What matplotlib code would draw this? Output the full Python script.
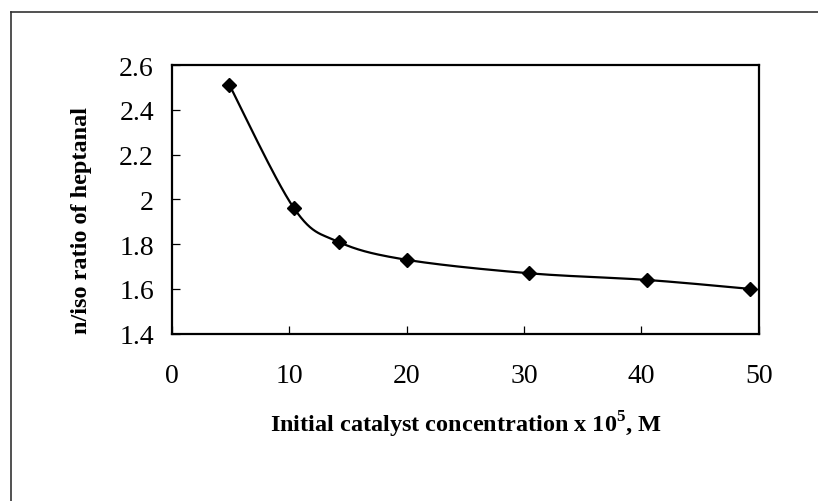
import numpy as np
import matplotlib
matplotlib.use('Agg')
import matplotlib.pyplot as plt
from matplotlib.lines import Line2D

# data
conc = [4.9, 10.4, 14.2, 20.0, 30.4, 40.5, 49.3]
ratio = [2.51, 1.96, 1.81, 1.73, 1.67, 1.64, 1.60]
xticks = [0, 10, 20, 30, 40, 50]
yticks = [1.4, 1.6, 1.8, 2.0, 2.2, 2.4, 2.6]
ytick_labels = ['1.4', '1.6', '1.8', '2', '2.2', '2.4', '2.6']

plt.rcParams['font.family'] = 'Liberation Serif'
plt.rcParams['mathtext.fontset'] = 'custom'
plt.rcParams['mathtext.rm'] = 'Liberation Serif'
plt.rcParams['mathtext.bf'] = 'Liberation Serif:bold'


def smooth(x, y, n=30):
    # Excel-like smoothed line: Catmull-Rom / bezier through the points
    # done in axis-normalised units so the shape does not depend on scales
    sx = np.asarray(x) / 50.0
    sy = (np.asarray(y) - 1.4) / 1.2 * 0.46
    pts = np.column_stack([sx, sy])
    out = [pts[0]]
    for i in range(len(pts) - 1):
        p0 = pts[i - 1] if i > 0 else pts[i]
        p1 = pts[i]
        p2 = pts[i + 1]
        p3 = pts[i + 2] if i + 2 < len(pts) else pts[i + 1]
        c1 = p1 + (p2 - p0) / 6.0
        c2 = p2 - (p3 - p1) / 6.0
        t = np.linspace(0, 1, n)[1:, None]
        seg = ((1 - t) ** 3 * p1 + 3 * (1 - t) ** 2 * t * c1
               + 3 * (1 - t) * t ** 2 * c2 + t ** 3 * p2)
        out.extend(seg)
    out = np.array(out)
    return out[:, 0] * 50.0, out[:, 1] / 0.46 * 1.2 + 1.4


fig = plt.figure(figsize=(8.18, 5.02), dpi=100)
ax = fig.add_axes([172 / 818, 1 - 334.7 / 502, 586.7 / 818, 268.7 / 502])

cx, cy = smooth(conc, ratio)
ax.plot(cx, cy, color='black', lw=1.6, zorder=2)
ax.plot(conc, ratio, ls='none', marker='D', ms=7, color='black', zorder=3)

ax.set_xlim(0, 50)
ax.set_ylim(1.4, 2.6)
ax.set_xticks(xticks)
ax.set_yticks(yticks)
ax.set_yticklabels(ytick_labels)
ax.tick_params(direction='in', length=6, width=0.9, labelsize=20, pad=21)
ax.tick_params(axis='y', pad=13)
for s in ax.spines.values():
    s.set_linewidth(1.6)

fig.text(466 / 818, 1 - 425 / 502,
         r'Initial catalyst concentration x 10$^{\mathbf{5}}$, M',
         ha='center', va='center', fontsize=17.5, fontweight='bold')
fig.text(82 / 818, 1 - 221 / 502, 'n/iso ratio of heptanal',
         ha='center', va='center', rotation=90, fontsize=17.5, fontweight='bold')

# outer chart-area border (left and top edges visible)
fig.add_artist(Line2D([10.5 / 818, 10.5 / 818], [0, 1 - 12.5 / 502],
                      transform=fig.transFigure, color='#333333', lw=1.2))
fig.add_artist(Line2D([10.5 / 818, 1], [1 - 12.5 / 502, 1 - 12.5 / 502],
                      transform=fig.transFigure, color='#333333', lw=1.2))

fig.savefig('out.png', dpi=100)
